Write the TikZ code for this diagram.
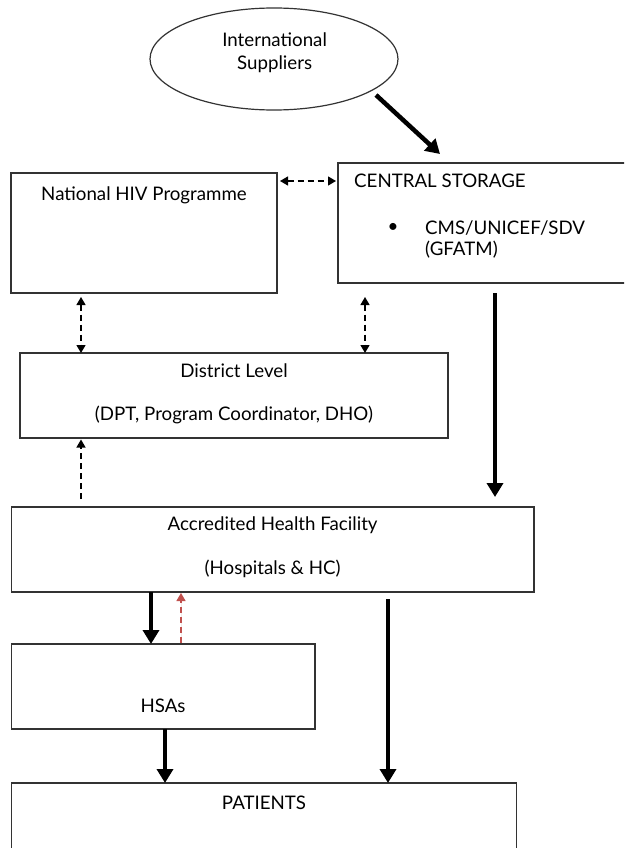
\documentclass[tikz,border=0pt]{standalone}
\usepackage{fontspec}
\setmainfont{Lato}
\usetikzlibrary{arrows.meta,shapes.geometric}
\begin{document}
\begin{tikzpicture}[x=1pt,y=-1pt,
  box/.style={draw=black!80,line width=1.2pt,rectangle,inner sep=0pt},
  txt/.style={font=\fontsize{18.7}{22}\selectfont,inner sep=0pt,text=black},
  bigarrow/.style={line width=4.5pt,-{Triangle[width=16pt,length=14pt]}},
  dasharrow/.style={line width=1.3pt,dash pattern=on 6pt off 4pt,-{Triangle[width=9pt,length=8pt]}},
  dashboth/.style={line width=1.3pt,dash pattern=on 6pt off 4pt,{Triangle[width=9pt,length=8pt]}-{Triangle[width=9pt,length=8pt]}},
]
\useasboundingbox (0,0) rectangle (624,848);
\clip (0,0) rectangle (624,848);
\fill[white] (0,0) rectangle (624,848);

% shapes
\node[box,ellipse,minimum width=248pt,minimum height=102pt] (ell) at (274,59) {};
\node[box,minimum width=266pt,minimum height=120pt] (nat) at (144,233) {};
\node[box,minimum width=302pt,minimum height=120pt] (cs) at (489,223) {};
\node[box,minimum width=428pt,minimum height=85pt] (dist) at (234,395.5) {};
\node[box,minimum width=522.5pt,minimum height=85pt] (acc) at (272.75,549.5) {};
\node[box,minimum width=303.5pt,minimum height=85pt] (hsa) at (163.25,686.5) {};
\node[box,minimum width=505pt,minimum height=87pt] (pat) at (264,826.5) {};

% texts
\node[txt] (t1) at (274.6,40) {International};
\node[txt] (t2) at (274.6,64) {Suppliers};
\node[txt] (t3) at (144,195) {National HIV Programme};
\node[txt,anchor=west] (t4) at (354,181) {CENTRAL STORAGE};
\node[txt] (t5) at (393,228) {•};
\node[txt,anchor=west] (t6) at (425,228) {CMS/UNICEF/SDV};
\node[txt,anchor=west] (t7) at (425,250) {(GFATM)};
\node[txt] (t8) at (234,371) {District Level};
\node[txt] (t9) at (234,415) {(DPT, Program Coordinator, DHO)};
\node[txt] (t10) at (272.6,525) {Accredited Health Facility};
\node[txt] (t11) at (272.6,569) {(Hospitals \& HC)};
\node[txt] (t12) at (163,706) {HSAs};
\node[txt] (t13) at (264,803) {PATIENTS};

% connector end points
\coordinate (a1s) at (376,95);
\coordinate (a1e) at (440,154);
\coordinate (b1s) at (280,181);
\coordinate (b1e) at (336,181);
\coordinate (c1s) at (81,297);
\coordinate (c1e) at (81,353);
\coordinate (c2s) at (365,297);
\coordinate (c2e) at (365,353);
\coordinate (d1s) at (81,499);
\coordinate (d1e) at (81,439.5);
\coordinate (e1s) at (495,293);
\coordinate (e1e) at (495,497);
\coordinate (f1s) at (151,592);
\coordinate (f1e) at (151,644);
\coordinate (g1s) at (181,643);
\coordinate (g1e) at (181,593);
\coordinate (h1s) at (388,599);
\coordinate (h1e) at (388,783);
\coordinate (i1s) at (165,729);
\coordinate (i1e) at (165,783);

% connectors
\draw[bigarrow] (a1s) -- (a1e);
\draw[dashboth] (b1s) -- (b1e);
\draw[dashboth] (c1s) -- (c1e);
\draw[dashboth] (c2s) -- (c2e);
\draw[dasharrow] (d1s) -- (d1e);
\draw[bigarrow] (e1s) -- (e1e);
\draw[bigarrow] (f1s) -- (f1e);
\draw[dasharrow,draw={rgb,255:red,192;green,80;blue,77},fill={rgb,255:red,192;green,80;blue,77}] (g1s) -- (g1e);
\draw[bigarrow] (h1s) -- (h1e);
\draw[bigarrow] (i1s) -- (i1e);
\end{tikzpicture}
\end{document}
